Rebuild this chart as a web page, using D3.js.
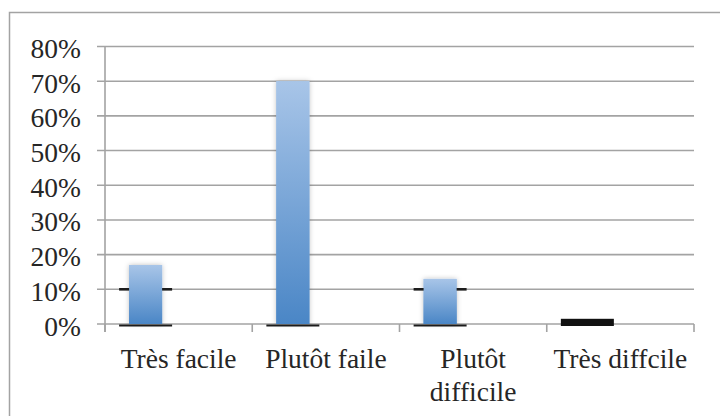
<!DOCTYPE html>
<html>
  <head>
    <meta charset="UTF-8" />
    <title>Difficulté perçue</title>
    <style>
      body,
      html {
        margin: 0;
        padding: 0;
        overflow: hidden;
        background: #fff;
      }
      text {
        font-family: "Liberation Serif", "DejaVu Serif", serif;
        fill: #262626;
      }
    </style>
  </head>
  <body>
    <svg id="chart"></svg>
    <script src="https://d3js.org/d3.v7.min.js"></script>
    <script>
      // data
      const categories = ["Très facile", "Plutôt faile", "Plutôt difficile", "Très diffcile"];
      const labelLines = [["Très facile"], ["Plutôt faile"], ["Plutôt", "difficile"], ["Très diffcile"]];
      const values = [0.17, 0.7, 0.13, 0];
      // the odd black dashes drawn over the bars
      const markerLevels = [[0.1, 0], [0], [0.1, 0], []];
      const blackValues = [0, 0, 0, 0.015];
      const yTicks = [0, 0.1, 0.2, 0.3, 0.4, 0.5, 0.6, 0.7, 0.8];
      const slots = ["s1", "s2", "s3"];

      const width = 720;
      const height = 416;
      const fontSize = 27.5;

      const svg = d3.select("#chart").attr("width", width).attr("height", height);

      // outer frame, runs off right and bottom edges
      svg
        .append("rect")
        .attr("x", 9.5)
        .attr("y", 12.5)
        .attr("width", 730)
        .attr("height", 430)
        .attr("fill", "none")
        .attr("stroke", "#a3a3a3")
        .attr("stroke-width", 1.5);

      const defs = svg.append("defs");
      const grad = defs
        .append("linearGradient")
        .attr("id", "barGrad")
        .attr("x1", 0)
        .attr("y1", 0)
        .attr("x2", 0)
        .attr("y2", 1);
      grad.append("stop").attr("offset", "0%").attr("stop-color", "#a8c5e8");
      grad.append("stop").attr("offset", "100%").attr("stop-color", "#4a86c6");

      const shadow = defs
        .append("filter")
        .attr("id", "shadow")
        .attr("x", "-40%")
        .attr("y", "-10%")
        .attr("width", "180%")
        .attr("height", "120%");
      shadow
        .append("feDropShadow")
        .attr("dx", 0)
        .attr("dy", 0)
        .attr("stdDeviation", 2.5)
        .attr("flood-color", "#000")
        .attr("flood-opacity", 0.25);

      const x = d3.scaleBand().domain(categories).range([105, 694]).padding(0);
      const x1 = d3
        .scaleBand()
        .domain(slots)
        .range([0, x.bandwidth()])
        .paddingInner(0)
        .paddingOuter(0.73);
      const y = d3.scaleLinear().domain([0, 0.8]).range([324, 46.5]);

      // gridlines + y ticks
      svg
        .append("g")
        .selectAll("line")
        .data(yTicks)
        .join("line")
        .attr("x1", 97)
        .attr("x2", 694)
        .attr("y1", (d) => y(d))
        .attr("y2", (d) => y(d))
        .attr("stroke", "#a3a3a3")
        .attr("stroke-width", 1.6);

      svg
        .append("g")
        .selectAll("text")
        .data(yTicks)
        .join("text")
        .attr("x", 81)
        .attr("y", (d) => y(d))
        .attr("dy", "0.42em")
        .attr("text-anchor", "end")
        .attr("font-size", fontSize)
        .text((d) => d3.format(".0%")(d));

      // y axis line
      svg
        .append("line")
        .attr("x1", 105)
        .attr("x2", 105)
        .attr("y1", y(0.8))
        .attr("y2", y(0) + 8)
        .attr("stroke", "#a3a3a3")
        .attr("stroke-width", 1.6);

      // x ticks
      const xEdges = categories.map((c) => x(c)).concat([x.range()[1]]);
      svg
        .append("g")
        .selectAll("line")
        .data(xEdges)
        .join("line")
        .attr("x1", (d) => d)
        .attr("x2", (d) => d)
        .attr("y1", y(0))
        .attr("y2", y(0) + 8)
        .attr("stroke", "#a3a3a3")
        .attr("stroke-width", 1.6);

      // bars (with soft shadow)
      svg
        .append("g")
        .selectAll("rect")
        .data(values)
        .join("rect")
        .attr("x", (d, i) => x(categories[i]) + x1("s1"))
        .attr("y", (d) => y(d))
        .attr("width", x1.bandwidth())
        .attr("height", (d) => y(0) - y(d))
        .attr("fill", "url(#barGrad)")
        .attr("filter", "url(#shadow)")
        .style("display", (d) => (d > 0 ? null : "none"));

      // black dashes, wider than the bar, behind it at 10% and under it at 0
      const markW = 53;
      const markData = [];
      markerLevels.forEach((levels, i) => levels.forEach((v) => markData.push({ i, v })));
      const marks = svg.append("g");
      marks
        .selectAll("rect.m")
        .data(markData)
        .join("rect")
        .attr("class", "m")
        .attr("x", (d) => x(categories[d.i]) + x1("s1") + x1.bandwidth() / 2 - markW / 2)
        .attr("y", (d) => (d.v === 0 ? y(d.v) + 0.5 : y(d.v) - 1.3))
        .attr("width", markW)
        .attr("height", (d) => (d.v === 0 ? 2 : 2.6))
        .attr("fill", "#1c1c1c");

      // bars again on top so the dashes sit behind them
      svg
        .append("g")
        .selectAll("rect")
        .data(values)
        .join("rect")
        .attr("x", (d, i) => x(categories[i]) + x1("s1"))
        .attr("y", (d) => y(d))
        .attr("width", x1.bandwidth())
        .attr("height", (d) => y(0) - y(d))
        .attr("fill", "url(#barGrad)")
        .style("display", (d) => (d > 0 ? null : "none"));

      // the solid black block in the last category
      marks
        .selectAll("rect.b")
        .data(blackValues)
        .join("rect")
        .attr("class", "b")
        .attr("x", (d, i) => x(categories[i]) + x1("s1") + x1.bandwidth() / 2 - markW / 2)
        .attr("y", (d) => y(d))
        .attr("width", markW)
        .attr("height", (d) => y(0) - y(d) + 2)
        .attr("fill", "#111")
        .style("display", (d) => (d > 0 ? null : "none"));

      // category labels
      const labels = svg
        .append("g")
        .selectAll("text")
        .data(categories)
        .join("text")
        .attr("x", (d) => x(d) + x.bandwidth() / 2)
        .attr("y", 368)
        .attr("text-anchor", "middle")
        .attr("font-size", fontSize);
      labels
        .selectAll("tspan")
        .data((d, i) => labelLines[i])
        .join("tspan")
        .attr("x", function () {
          return this.parentNode.getAttribute("x");
        })
        .attr("dy", (d, j) => (j === 0 ? 0 : 33))
        .text((d) => d);
    </script>
  </body>
</html>
